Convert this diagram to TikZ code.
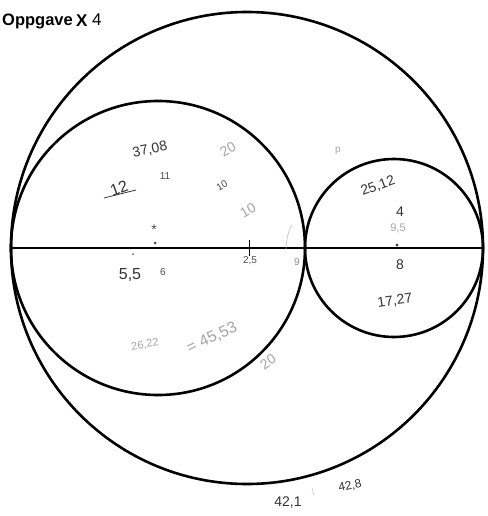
\documentclass[tikz,border=0pt]{standalone}
\usepackage{fontspec}
\setmainfont{Liberation Sans}
\begin{document}
\begin{tikzpicture}[x=1pt,y=-1pt,
  ring/.style={draw=black,line width=2.6pt},
  hand/.style={font=\fontsize{14}{14}\selectfont,text=black!80,inner sep=0pt},
  faint/.style={font=\fontsize{14}{14}\selectfont,text=black!35,inner sep=0pt},
  small/.style={font=\fontsize{10}{10}\selectfont,text=black!70,inner sep=0pt}]
\useasboundingbox (0,0) rectangle (487,516);
\fill[white] (0,0) rectangle (487,516);
% circles
\coordinate (bigc) at (247,248);
\coordinate (leftc) at (158,248);
\coordinate (rightc) at (394,248);
\coordinate (west) at (11,248);
\coordinate (east) at (483,248);
\draw[ring] (bigc) circle (236pt);
\draw[ring] (leftc) circle (147pt);
\draw[ring] (rightc) circle (89pt);
\draw[line width=2.6pt] (west) -- (east);
% title
\node[anchor=west,inner sep=0pt,font=\bfseries\fontsize{16.5}{16}\selectfont] (title) at (2,21) {Oppgave};
\node[anchor=west,inner sep=0pt,font=\bfseries\fontsize{17}{17}\selectfont] (crossed) at (76,21) {X};
\node[anchor=west,inner sep=0pt,font=\fontsize{17}{17}\selectfont] (four) at (92,20) {4};
% left circle texts
\node[hand,rotate=12] (t1) at (150,150) {37,08};
\node[hand,font=\fontsize{16}{16}\selectfont,rotate=20] (t2) at (119,188) {12};
\draw[black!80,line width=0.8pt] (104,198) -- (136,190);
\node[small] (t3) at (165,176) {11};
\node[faint,rotate=30] (t4) at (228,149) {20};
\node[small,rotate=30] (t5) at (222,186) {10};
\node[faint,rotate=30] (t6) at (248,210) {10};
\node[small,font=\fontsize{14}{14}\selectfont] (t7) at (154,230) {*};
\fill[black!70] (155,243) circle (1.5pt);
\fill[black!60] (133,254) circle (1pt);
\draw[black,line width=1pt] (249,240) -- (249,256);
\node[small] (t8) at (250,261) {2,5};
\node[small,text=black!45] (t9) at (297,262) {9};
\draw[black!25,line width=0.6pt] (286,250) arc[start angle=180,end angle=205,radius=60];
\node[hand,font=\fontsize{16}{16}\selectfont] (t10) at (130,275) {5,5};
\node[small] (t11) at (163,272) {6};
\node[faint,font=\fontsize{11}{11}\selectfont,rotate=10] (t12) at (145,345) {26,22};
\node[faint,font=\fontsize{16}{16}\selectfont,rotate=25] (t13) at (212,338) {= 45,53};
\node[faint,rotate=35] (t14) at (268,362) {20};
% right circle texts
\node[faint,font=\fontsize{10}{10}\selectfont] (t15) at (338,151) {p};
\node[hand,rotate=20] (t16) at (378,186) {25,12};
\node[hand] (t17) at (400,212) {4};
\node[faint,font=\fontsize{11}{11}\selectfont] (t18) at (398,228) {9,5};
\fill[black!70] (397,245) circle (1.6pt);
\node[hand] (t19) at (400,265) {8};
\node[hand,rotate=8] (t20) at (395,301) {17,27};
% bottom
\node[hand] (t21) at (288,503) {42,1};
\node[hand,font=\fontsize{12}{12}\selectfont,rotate=12] (t22) at (350,486) {42,8};
\draw[black!25,line width=0.5pt] (312,488) -- (314,495);
\end{tikzpicture}
\end{document}
